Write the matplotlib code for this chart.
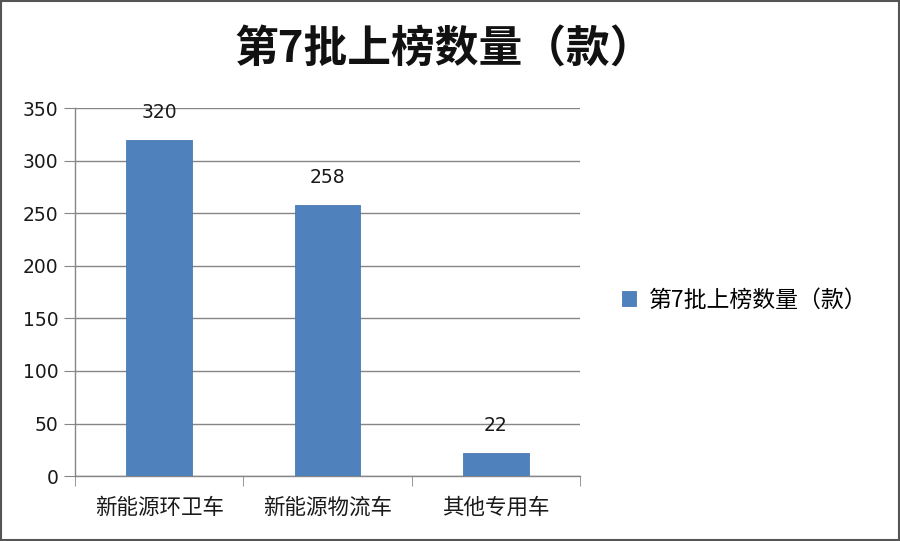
import matplotlib
matplotlib.use("Agg")
import matplotlib.pyplot as plt
from matplotlib.patches import Rectangle

plt.rcParams['font.family'] = ['Noto Sans CJK SC', 'DejaVu Sans']

categories = ['新能源环卫车', '新能源物流车', '其他专用车']
values = [320, 258, 22]
series_name = '第7批上榜数量（款）'
yticks = [0, 50, 100, 150, 200, 250, 300, 350]

fig = plt.figure(figsize=(9, 5.41), dpi=100)
ax = fig.add_axes([0.0833, 0.120, 0.5611, 0.680])

bar_color = '#4f81bd'
x = list(range(len(categories)))
bars = ax.bar(x, values, width=0.39, color=bar_color, edgecolor='#4a7ab5', linewidth=0.6,
              label=series_name, zorder=3)

for xi, v in zip(x, values):
    ax.annotate(str(v), (xi, v), xytext=(0, 19.5), textcoords='offset points',
                ha='center', va='center', fontsize=13.5, color='#1a1a1a', zorder=4,
                family='DejaVu Sans')

ax.set_xlim(-0.5, len(categories) - 0.5)
ax.set_ylim(0, 350)
ax.set_yticks(yticks)
ax.set_yticklabels([str(t) for t in yticks], fontsize=13.5, color='#1a1a1a',
                   family='DejaVu Sans')
ax.set_xticks(x)
ax.set_xticklabels(categories, fontsize=15.5, color='#1a1a1a')
ax.set_xticks([i - 0.5 for i in range(len(categories) + 1)], minor=True)
ax.tick_params(axis='x', which='major', length=0, pad=15)
ax.tick_params(axis='x', which='minor', length=7, color='#868686', direction='out')
ax.tick_params(axis='y', length=8, color='#868686', direction='out', pad=4)

ax.grid(axis='y', color='#868686', linewidth=1.0, zorder=0)
for s in ['top', 'right']:
    ax.spines[s].set_visible(False)
for s in ['left', 'bottom']:
    ax.spines[s].set_color('#868686')
    ax.spines[s].set_linewidth(1.0)

fig.text(0.494, 0.908, series_name, ha='center', va='center', fontsize=31.5,
         fontweight='bold', color='#111111')

fig.legend(handles=[bars], labels=[series_name], loc='center left',
           bbox_to_anchor=(0.668, 0.445), frameon=False, fontsize=16.5,
           handlelength=0.6, handleheight=0.6, handletextpad=0.6)

fig.patches.append(Rectangle((0.001, 0.001), 0.998, 0.998, transform=fig.transFigure,
                             fill=False, edgecolor='#555555', linewidth=1.5))

fig.savefig('out.png', dpi=100)
